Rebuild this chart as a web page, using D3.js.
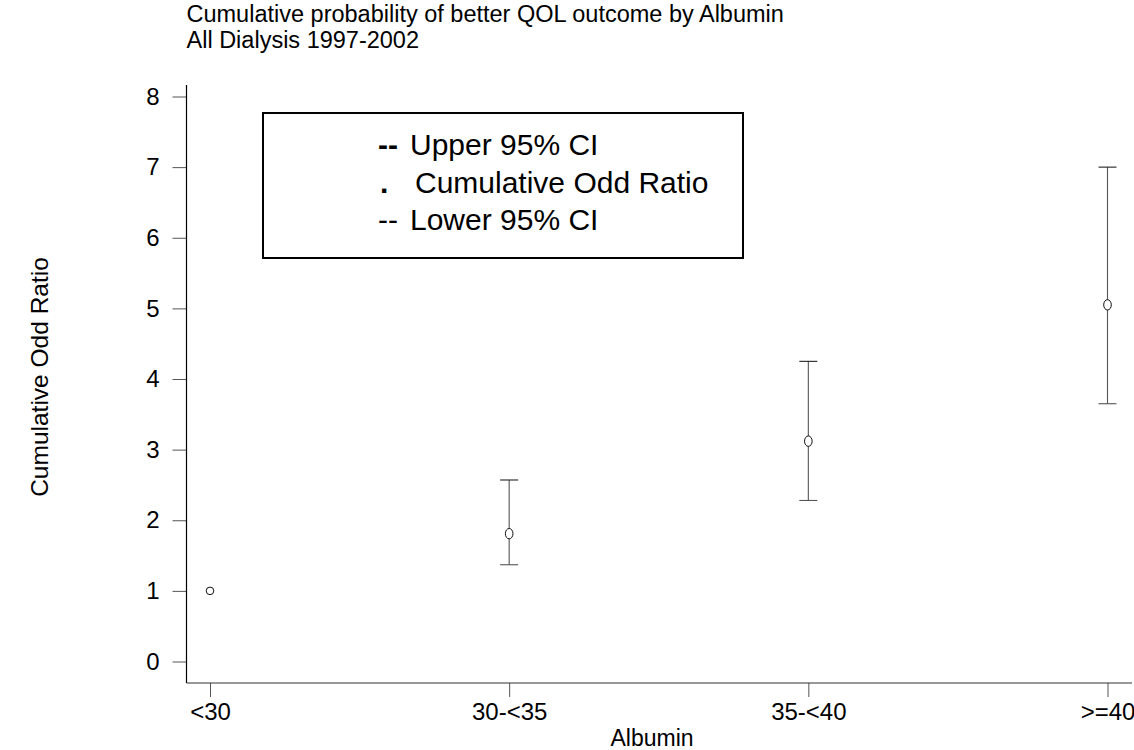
<!DOCTYPE html>
<html>
<head>
<meta charset="utf-8">
<script src="https://cdn.jsdelivr.net/npm/d3@7"></script>
<style>
  html, body { margin: 0; padding: 0; background: #fff; }
  svg { display: block; font-family: "Liberation Sans", Arial, sans-serif; }
</style>
</head>
<body>
<svg id="chart" width="1134" height="750"></svg>
<script>
// Albumin groups and cumulative odds ratios with 95% confidence limits
const categories = ["<30", "30-<35", "35-<40", ">=40"];
const oddRatio   = [1.0, 1.81, 3.12, 5.05];
const upperCI    = [null, 2.57, 4.25, 7.0];
const lowerCI    = [null, 1.37, 2.28, 3.65];
const yTicks     = [0, 1, 2, 3, 4, 5, 6, 7, 8];
const legendLines = [
  { mark: "--", text: "Upper 95% CI", bold: true, markX: 378, textX: 410 },
  { mark: ".",  text: "Cumulative Odd Ratio", bold: true, markX: 380, textX: 415 },
  { mark: "--", text: "Lower 95% CI", bold: false, markX: 378, textX: 410 }
];

const FONT = "Liberation Sans, Arial, sans-serif";
const svg = d3.select("#chart");

const plot = { left: 186.5, right: 1132, top: 85, bottom: 683 };

const x = d3.scalePoint()
  .domain(categories)
  .range([210, 1107.5]);

const y = d3.scaleLinear()
  .domain([0, 8])
  .range([661.5, 96.5]);

// Titles
const title = svg.append("g").attr("font-size", 23.5).attr("fill", "#000");
title.append("text").attr("x", plot.left).attr("y", 22)
  .text("Cumulative probability of better QOL outcome by Albumin");
title.append("text").attr("x", plot.left).attr("y", 48)
  .text("All Dialysis 1997-2002");

// Y axis
const yAxis = svg.append("g")
  .attr("transform", `translate(${plot.left},0)`)
  .call(d3.axisLeft(y).tickValues(yTicks).tickSize(14).tickPadding(13).tickFormat(d3.format("d")));
yAxis.select(".domain").remove();
yAxis.append("line")
  .attr("x1", 0).attr("x2", 0)
  .attr("y1", plot.top).attr("y2", plot.bottom)
  .attr("stroke", "#000").attr("stroke-width", 1.2);
yAxis.selectAll(".tick line").attr("stroke", "#555");
yAxis.selectAll(".tick text")
  .attr("font-size", 24).attr("fill", "#000")
  .attr("font-family", FONT);

// X axis
const xAxis = svg.append("g")
  .attr("transform", `translate(0,${plot.bottom})`)
  .call(d3.axisBottom(x).tickSize(14).tickPadding(6));
xAxis.select(".domain").remove();
xAxis.append("line")
  .attr("x1", plot.left).attr("x2", plot.right)
  .attr("y1", 0).attr("y2", 0)
  .attr("stroke", "#333").attr("stroke-width", 1.2);
xAxis.selectAll(".tick line").attr("stroke", "#555");
xAxis.selectAll(".tick text")
  .attr("font-size", 24).attr("fill", "#000")
  .attr("font-family", FONT);

// Axis titles
svg.append("text")
  .attr("x", 652)
  .attr("y", 746)
  .attr("text-anchor", "middle")
  .attr("font-size", 23)
  .text("Albumin");

svg.append("text")
  .attr("transform", `translate(48,377) rotate(-90)`)
  .attr("text-anchor", "middle")
  .attr("font-size", 24.5)
  .text("Cumulative Odd Ratio");

// Confidence interval bars
const rows = categories.map((c, i) => ({
  cat: c, or: oddRatio[i], lo: lowerCI[i], hi: upperCI[i]
}));
const ci = rows.filter(d => d.lo !== null);
const capHalf = 9;

const bars = svg.append("g").attr("stroke", "#555").attr("stroke-width", 1.1);
bars.selectAll("line.whisker").data(ci).join("line")
  .attr("class", "whisker")
  .attr("x1", d => x(d.cat)).attr("x2", d => x(d.cat))
  .attr("y1", d => y(d.hi)).attr("y2", d => y(d.lo));
bars.selectAll("line.capHi").data(ci).join("line")
  .attr("class", "capHi")
  .attr("stroke", "#222")
  .attr("x1", d => x(d.cat) - capHalf).attr("x2", d => x(d.cat) + capHalf)
  .attr("y1", d => y(d.hi)).attr("y2", d => y(d.hi));
bars.selectAll("line.capLo").data(ci).join("line")
  .attr("class", "capLo")
  .attr("x1", d => x(d.cat) - capHalf).attr("x2", d => x(d.cat) + capHalf)
  .attr("y1", d => y(d.lo)).attr("y2", d => y(d.lo));

// Odds ratio markers
svg.append("g").selectAll("ellipse").data(rows).join("ellipse")
  .attr("cx", d => x(d.cat))
  .attr("cy", d => y(d.or))
  .attr("rx", 3.8)
  .attr("ry", d => d.lo === null ? 3.8 : 5.2)
  .attr("fill", "#fff")
  .attr("stroke", "#111")
  .attr("stroke-width", 1);

// Legend
const lg = svg.append("g");
lg.append("rect")
  .attr("x", 263).attr("y", 113)
  .attr("width", 480).attr("height", 145)
  .attr("fill", "#fff").attr("stroke", "#000").attr("stroke-width", 2);
legendLines.forEach((l, i) => {
  const yy = 155 + i * 37.5;
  lg.append("text")
    .attr("x", l.markX).attr("y", yy)
    .attr("font-size", 30).attr("font-weight", l.bold ? "bold" : "normal")
    .text(l.mark);
  lg.append("text")
    .attr("x", l.textX).attr("y", yy)
    .attr("font-size", 30)
    .text(l.text);
});
</script>
</body>
</html>
